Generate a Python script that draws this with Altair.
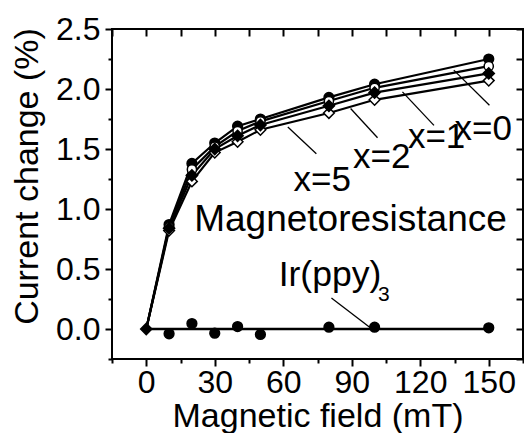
import altair as alt
import pandas as pd

# ---- data ----
field = [0, 10, 20, 30, 40, 50, 80, 100, 150]
mr_x0 = [0, 0.87, 1.38, 1.55, 1.69, 1.75, 1.93, 2.04, 2.25]
mr_x1 = [0, 0.85, 1.33, 1.52, 1.65, 1.73, 1.90, 2.01, 2.19]
mr_x2 = [0, 0.84, 1.28, 1.50, 1.61, 1.70, 1.86, 1.97, 2.13]
mr_x5 = [0, 0.82, 1.23, 1.47, 1.56, 1.66, 1.80, 1.91, 2.07]
ir_ppy3 = [0, -0.04, 0.045, -0.035, 0.02, -0.045, 0.015, 0.015, 0.01]
ir_line_x = [0, 150]
ir_line_y = [0, 0]

x_ticks = [-15, 0, 15, 30, 45, 60, 75, 90, 105, 120, 135, 150, 165]
y_ticks = [-0.25, 0, 0.25, 0.5, 0.75, 1.0, 1.25, 1.5, 1.75, 2.0, 2.25, 2.5]

label_text = ["Magnetoresistance", "x=5", "x=2", "x=1", "x=0", "Ir(ppy)"]
label_x = [21.0, 64.5, 90.6, 114.6, 135.0, 58.0]
label_y = [0.82, 1.154, 1.338, 1.505, 1.572, 0.36]
label_size = [37, 35, 35, 35, 35, 35.5]
sub_text = ["3"]
sub_x = [101.5]
sub_y = [0.235]

ptr_x = [62.0, 89.5, 112.2, 134.7, 81.1]
ptr_y = [1.683, 1.837, 1.976, 2.157, 0.259]
ptr_x2 = [74.5, 101.3, 126.0, 150.3, 97.7]
ptr_y2 = [1.461, 1.594, 1.697, 1.865, 0.017]

FONT = "Liberation Sans"

series = {"x=0": mr_x0, "x=1": mr_x1, "x=2": mr_x2, "x=5": mr_x5}
mr = pd.DataFrame(
    [{"field": f, "value": v, "series": s} for s, vals in series.items() for f, v in zip(field, vals)]
)
ir = pd.DataFrame({"field": field, "value": ir_ppy3})
irl = pd.DataFrame({"field": ir_line_x, "value": ir_line_y})
ann = pd.DataFrame({"text": label_text, "x": label_x, "y": label_y, "size": label_size})
sub = pd.DataFrame({"text": sub_text, "x": sub_x, "y": sub_y})
ptr = pd.DataFrame({"x": ptr_x, "y": ptr_y, "x2": ptr_x2, "y2": ptr_y2})

xs = alt.Scale(domain=[-15, 165], nice=False, zero=False)
ys = alt.Scale(domain=[-0.25, 2.5], nice=False, zero=False)

x_major = "datum.value % 30 === 0"
y_major = "abs(datum.value % 0.5) < 0.001"

axis_bottom = alt.Axis(
    orient="bottom", values=x_ticks, grid=False, domain=False,
    tickSize={"condition": {"test": x_major, "value": 7}, "value": 4},
    tickWidth=2, tickColor="black",
    labelExpr=f"{x_major} ? datum.label : ''",
    labelFont=FONT, labelFontSize=32, labelColor="black", labelPadding=1,
    labelFlush=False, labelOverlap=False,
    title="Magnetic field (mT)", titleFont=FONT, titleFontSize=34,
    titleFontWeight="normal", titleColor="black", titleBaseline="alphabetic", titleY=67,
)
axis_left = alt.Axis(
    orient="left", values=y_ticks, grid=False, domain=False,
    tickSize={"condition": {"test": y_major, "value": 7}, "value": 4},
    tickWidth=2, tickColor="black",
    labelExpr=f"{y_major} ? format(datum.value, '.1f') : ''",
    labelFont=FONT, labelFontSize=32, labelColor="black", labelPadding=5,
    labelFlush=False, labelOverlap=False, labelBaseline="middle",
    title="Current change (%)", titleFont=FONT, titleFontSize=34,
    titleFontWeight="normal", titleColor="black", titleAngle=270,
    titleBaseline="alphabetic", titleAlign="center", titleX=-75, titleY=147,
)
axis_top = alt.Axis(
    orient="top", values=x_ticks, grid=False, domain=False, labels=False, title=None,
    tickSize=7, tickWidth=2, tickColor="black", offset=-7,
)
axis_right = alt.Axis(
    orient="right", values=y_ticks, grid=False, domain=False, labels=False, title=None,
    tickSize=7, tickWidth=2, tickColor="black", offset=-7,
)

base_x = alt.X("field:Q", scale=xs, axis=None)
base_y = alt.Y("value:Q", scale=ys, axis=None)

lines = alt.Chart(mr).mark_line(color="black", strokeWidth=2.2).encode(
    x=alt.X("field:Q", scale=xs, axis=axis_bottom),
    y=alt.Y("value:Q", scale=ys, axis=axis_left),
    detail="series:N",
)
ir_line = alt.Chart(irl).mark_line(color="black", strokeWidth=2.5).encode(
    x=alt.X("field:Q", scale=xs, axis=axis_top),
    y=alt.Y("value:Q", scale=ys, axis=axis_right),
)
pointers = alt.Chart(ptr).mark_rule(color="black", strokeWidth=1.3).encode(
    x=alt.X("x:Q", scale=xs, axis=None), y=alt.Y("y:Q", scale=ys, axis=None),
    x2="x2:Q", y2="y2:Q",
)


def pts(df, series_name, shape, filled_black, size):
    d = df[df["series"] == series_name] if series_name else df
    return alt.Chart(d).mark_point(
        shape=shape, filled=True, size=size,
        fill="black" if filled_black else "white",
        stroke="black", strokeWidth=1.5, opacity=1,
    ).encode(x=base_x, y=base_y)


m0 = pts(mr[mr.field > 0], "x=0", "circle", True, 95)
m1 = pts(mr[mr.field > 0], "x=1", "circle", False, 85)
m5 = pts(mr[mr.field > 0], "x=5", "diamond", False, 115)
m2 = pts(mr, "x=2", "diamond", True, 125)
mir = pts(ir[ir.field > 0], None, "circle", True, 95)

texts = alt.Chart(ann).mark_text(
    align="left", baseline="alphabetic", font=FONT, color="black"
).encode(
    x=alt.X("x:Q", scale=xs, axis=None), y=alt.Y("y:Q", scale=ys, axis=None),
    text="text:N", size=alt.Size("size:Q", scale=None, legend=None),
)
subs = alt.Chart(sub).mark_text(
    align="left", baseline="alphabetic", font=FONT, color="black", fontSize=21
).encode(
    x=alt.X("x:Q", scale=xs, axis=None), y=alt.Y("y:Q", scale=ys, axis=None),
    text="text:N",
)

chart = (
    alt.layer(lines, ir_line, pointers, m0, m1, m5, mir, m2, texts, subs)
    .resolve_axis(x="independent", y="independent")
    .properties(
        width=411, height=330,
        autosize=alt.AutoSizeParams(type="none"),
        padding={"left": 112, "top": 29, "right": 1, "bottom": 74},
        background="white",
    )
    .configure_view(stroke="black", strokeWidth=2)
)

chart.save("out.html", embed_options={"renderer": "svg", "actions": False})
